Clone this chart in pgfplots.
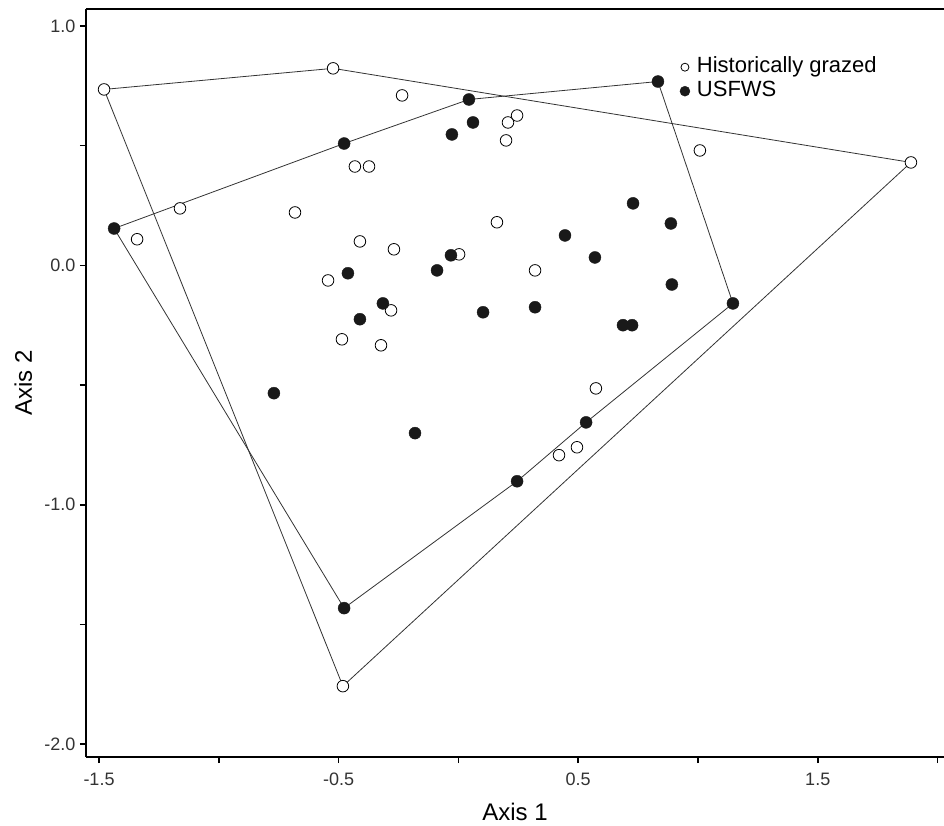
\documentclass[border=0pt]{standalone}
\usepackage{fontspec}
\setmainfont{Liberation Sans}
\usepackage{pgfplots}
\usepackage{pgfplotstable}
\pgfplotsset{compat=1.18}

\pgfplotstableread{
x y
-1.479 0.735
-1.341 0.109
-1.162 0.238
-0.682 0.221
-0.523 0.823
-0.235 0.710
-0.432 0.413
-0.373 0.413
0.207 0.597
0.245 0.626
0.199 0.522
0.161 0.180
-0.411 0.100
-0.269 0.067
0.003 0.046
0.320 -0.021
-0.544 -0.063
-0.281 -0.188
-0.486 -0.309
-0.323 -0.334
0.574 -0.514
0.495 -0.760
0.420 -0.793
1.008 0.480
1.889 0.430
-0.482 -1.758
}\grazed

\pgfplotstableread{
x y
-1.437 0.154
-0.477 0.509
0.044 0.693
0.061 0.597
-0.027 0.547
0.729 0.259
0.445 0.125
0.570 0.033
-0.031 0.042
-0.089 -0.021
-0.461 -0.033
-0.315 -0.159
-0.411 -0.225
0.103 -0.196
0.320 -0.175
-0.181 -0.701
-0.770 -0.534
0.245 -0.902
0.533 -0.656
0.687 -0.250
0.725 -0.250
0.887 0.175
0.891 -0.080
0.833 0.768
1.146 -0.159
-0.477 -1.432
}\usfws

\pgfplotstableread{
x y
-1.479 0.735
-0.523 0.823
1.889 0.430
-0.482 -1.758
-1.479 0.735
}\grazedhull

\pgfplotstableread{
x y
-1.437 0.154
-0.477 0.509
0.044 0.693
0.833 0.768
1.146 -0.159
0.533 -0.656
0.245 -0.902
-0.477 -1.432
-1.437 0.154
}\usfwshull

\begin{document}
\begin{tikzpicture}[x=1pt,y=1pt]
\useasboundingbox (-86,-68) rectangle (858,757);
\begin{axis}[
  at={(0pt,0pt)}, anchor=south west,
  scale only axis,
  width=858pt, height=748pt,
  xmin=-1.5543, xmax=2.027,
  ymin=-2.054, ymax=1.071,
  axis lines*=left,
  axis line style={line width=2.2pt, black},
  tick align=outside,
  major tick length=6pt,
  tick style={line width=1.6pt, black},
  xtick={-1.5,-1,-0.5,0,0.5,1,1.5,2},
  xticklabels={-1.5,,-0.5,,0.5,,1.5,},
  ytick={-2,-1.5,-1,-0.5,0,0.5,1},
  yticklabels={-2.0,,-1.0,,0.0,,1.0},
  ticklabel style={font=\fontsize{18}{20}\selectfont, text=black!80},
  xticklabel style={anchor=base, yshift=-22pt},
  yticklabel style={anchor=east, xshift=-1pt},
  xlabel={Axis 1}, ylabel={Axis 2},
  every axis x label/.style={at={(rel axis cs:0.5,0)}, anchor=base, yshift=-63pt, font=\fontsize{24}{26}\selectfont},
  every axis y label/.style={at={(rel axis cs:0,0.5)}, anchor=base, rotate=90, yshift=54pt, font=\fontsize{24}{26}\selectfont},
  legend style={at={(rel axis cs:0.692,0.9385)}, anchor=north west, draw=none, fill=none, inner sep=0pt,
    font=\fontsize{22}{24}\selectfont, row sep=0pt,
    nodes={inner xsep=7pt, inner ysep=2pt, text height=15pt, text depth=5pt}},
  legend cell align=left,
  legend image code/.code={\draw[mark repeat=2,mark phase=2,#1] plot coordinates {(0cm,0cm)(0.15cm,0cm)(0.3cm,0cm)};},
]
\addplot[forget plot, black!80, line width=0.8pt] table {\grazedhull};
\addplot[forget plot, black!80, line width=0.8pt] table {\usfwshull};
\addplot[forget plot, only marks, mark=*, mark size=5.8pt, mark options={fill=white, draw=black, line width=0.8pt}] table {\grazed};
\addplot[forget plot, only marks, mark=*, mark size=6pt, mark options={fill=black!90, draw=black!90}] table {\usfws};
\addlegendimage{only marks, mark=*, mark size=4pt, mark options={fill=white, draw=black, line width=0.8pt}}
\addlegendentry{Historically grazed}
\addlegendimage{only marks, mark=*, mark size=5pt, mark options={fill=black!90, draw=black!90}}
\addlegendentry{USFWS}
\draw[line width=2.2pt, black] (rel axis cs:0,1) -- (rel axis cs:1,1);
\end{axis}
\end{tikzpicture}
\end{document}
